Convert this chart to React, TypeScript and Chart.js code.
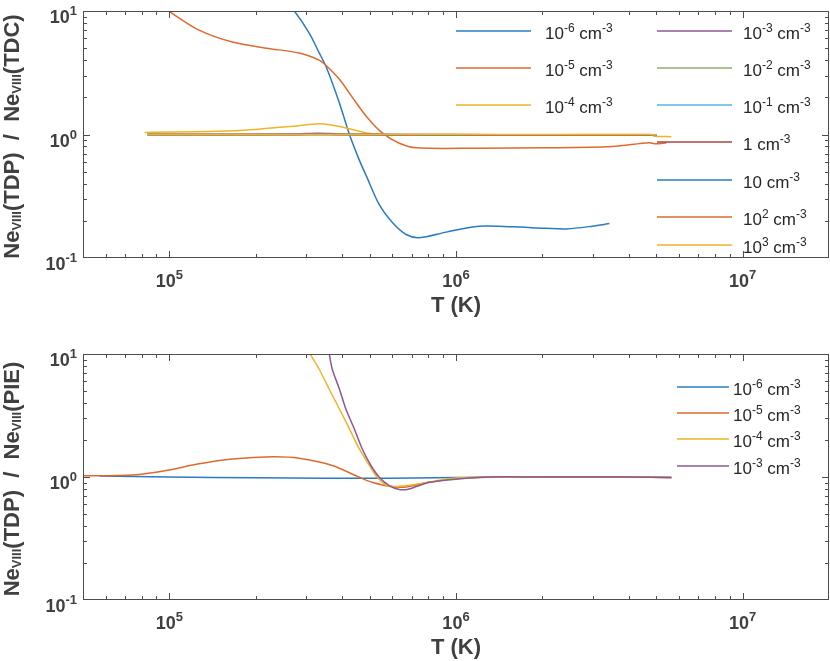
import React, { useEffect, useRef } from "react";
import { Chart, registerables } from "chart.js";

Chart.register(...registerables);

// axes
const xMin = 5e4;
const xMax = 2e7;
const yMin = 0.1;
const yMax = 10;
const xTicks = [1e5, 1e6, 1e7];
const xTickLabels = ["10^{5}", "10^{6}", "10^{7}"];
const yTicks = [0.1, 1, 10];
const yTickLabels = ["10^{-1}", "10^{0}", "10^{1}"];

const densityLabels = [
  "10^{-6} cm^{-3}",
  "10^{-5} cm^{-3}",
  "10^{-4} cm^{-3}",
  "10^{-3} cm^{-3}",
  "10^{-2} cm^{-3}",
  "10^{-1} cm^{-3}",
  "1 cm^{-3}",
  "10 cm^{-3}",
  "10^{2} cm^{-3}",
  "10^{3} cm^{-3}",
];

// matlab-ish line colours
const colors = ["#2a7bbf", "#dd6a2e", "#eeb528", "#8b5a92", "#8fac68", "#55b5e5", "#ad4540", "#2a7bbf", "#dd6a2e", "#eeb528"];

// ---- upper panel: TDP / TDC ----
const tdcT_m6 = [2.4e5, 2.73e5, 3.08e5, 3.33e5, 3.53e5, 3.92e5, 4.25e5, 4.6e5, 4.87e5, 5.4e5, 6.0e5, 6.7e5, 7.45e5, 9.25e5, 1.2e6, 1.57e6, 2.06e6, 2.43e6, 2.99e6, 3.43e6];
const tdcR_m6 = [14, 10, 6.6, 4.6, 3.5, 1.8, 1.0, 0.62, 0.46, 0.27, 0.194, 0.155, 0.146, 0.162, 0.181, 0.179, 0.174, 0.172, 0.181, 0.19];

const tdcT_m5 = [9.0e4, 1.0e5, 1.27e5, 1.66e5, 2.18e5, 2.84e5, 3.33e5, 3.53e5, 3.92e5, 4.35e5, 4.87e5, 5.53e5, 6.34e5, 7.27e5, 1.2e6, 2.06e6, 3.51e6, 4.72e6, 4.97e6, 5.42e6];
const tdcR_m5 = [11.5, 9.9, 7.0, 5.6, 5.0, 4.57, 4.0, 3.6, 2.8, 2.0, 1.4, 1.03, 0.85, 0.78, 0.775, 0.78, 0.8, 0.857, 0.84, 0.857];

const tdcT_m4 = [8.2e4, 1.66e5, 2.62e5, 3.33e5, 3.7e5, 4.14e5, 4.87e5, 5.53e5, 1.0e6, 2.0e6, 4.72e6, 4.97e6, 5.64e6];
const tdcR_m4 = [1.04, 1.07, 1.16, 1.22, 1.19, 1.13, 1.03, 1.0, 1.0, 0.995, 1.0, 0.97, 0.96];

const tdcT_flat = [8.4e4, 1.2e5, 2.0e5, 2.8e5, 3.3e5, 3.9e5, 5.0e5, 7.0e5, 1.0e6, 2.0e6, 3.5e6, 4.7e6, 5.0e6];
const tdcR_m3 = [1.0, 1.0, 1.0, 1.01, 1.025, 1.01, 1.0, 0.995, 0.99, 0.99, 0.99, 0.99, 0.985];
const tdcR_m2 = [1.0, 1.0, 1.0, 1.0, 1.01, 1.0, 1.0, 0.995, 0.99, 0.99, 0.99, 0.99, 0.98];
const tdcR_m1 = [0.995, 0.995, 1.0, 1.0, 1.0, 1.0, 0.995, 0.99, 0.99, 0.99, 0.99, 0.99, 0.98];
const tdcR_0 = [1.0, 1.0, 1.0, 1.0, 1.005, 1.0, 1.0, 0.995, 0.995, 0.99, 0.99, 0.99, 0.985];
const tdcR_1 = [1.0, 1.0, 1.0, 1.0, 1.0, 1.0, 1.0, 1.0, 0.995, 0.995, 0.995, 0.99, 0.985];
const tdcR_2 = [1.0, 1.0, 1.0, 1.0, 1.0, 1.0, 1.0, 1.0, 1.0, 0.995, 0.995, 0.995, 0.99];
const tdcR_3 = [1.0, 1.0, 1.0, 1.0, 1.0, 1.0, 1.0, 1.0, 1.0, 1.0, 1.0, 1.0, 0.99];

// ---- lower panel: TDP / PIE ----
const pieT_m6 = [5.7e4, 1.0e5, 2.0e5, 3.5e5, 5.0e5, 7.0e5, 1.0e6, 2.0e6, 4.0e6, 5.64e6];
const pieR_m6 = [1.02, 1.0, 0.985, 0.978, 0.978, 0.98, 0.99, 1.0, 1.0, 0.99];

const pieT_m5 = [4.8e4, 7.43e4, 9.77e4, 1.27e5, 1.66e5, 2.29e5, 2.84e5, 3.7e5, 4.6e5, 5.1e5, 5.85e5, 6.71e5, 8.07e5, 1.0e6, 1.31e6, 2.0e6, 4.0e6, 5.64e6];
const pieR_m5 = [1.02, 1.04, 1.13, 1.28, 1.4, 1.46, 1.42, 1.24, 0.995, 0.905, 0.84, 0.83, 0.905, 0.97, 1.0, 1.0, 1.0, 0.99];

const pieT_m4 = [2.84e5, 3.08e5, 3.33e5, 3.61e5, 3.92e5, 4.25e5, 4.6e5, 4.99e5, 5.31e5, 5.75e5, 6.34e5, 7.2e5, 8.5e5, 1.0e6, 1.31e6, 2.0e6, 4.0e6, 5.64e6];
const pieR_m4 = [13.7, 10.2, 7.55, 5.19, 3.57, 2.46, 1.69, 1.24, 0.995, 0.85, 0.84, 0.87, 0.93, 0.98, 1.0, 1.0, 1.0, 0.99];

const pieT_m3 = [3.5e5, 3.61e5, 3.7e5, 3.92e5, 4.13e5, 4.42e5, 4.71e5, 5.05e5, 5.4e5, 5.85e5, 6.34e5, 6.87e5, 8.07e5, 1.0e6, 1.31e6, 2.0e6, 4.0e6, 5.64e6];
const pieR_m3 = [16, 10.2, 7.55, 5.19, 3.57, 2.46, 1.69, 1.24, 0.995, 0.85, 0.79, 0.8, 0.905, 0.96, 1.0, 1.0, 1.0, 0.99];

const AXIS = "#4d4d4d";
const LABEL = "#404040";
const TEXT = "#262626";
const FONT = '"Liberation Sans", Arial, Helvetica, sans-serif';

type Seg = { t: string; k: "n" | "sup" | "sub" };

function splitRich(text: string): Seg[] {
  const out: Seg[] = [];
  const re = /([\^_])\{([^}]*)\}/g;
  let last = 0;
  let m: RegExpExecArray | null;
  while ((m = re.exec(text))) {
    if (m.index > last) out.push({ t: text.slice(last, m.index), k: "n" });
    out.push({ t: m[2], k: m[1] === "^" ? "sup" : "sub" });
    last = re.lastIndex;
  }
  if (last < text.length) out.push({ t: text.slice(last), k: "n" });
  return out;
}

type RichStyle = { size: number; small: number; raise: number; lower: number; bold: boolean; color: string };

function drawRich(ctx: CanvasRenderingContext2D, text: string, x: number, y: number, st: RichStyle, align: "left" | "center" | "right") {
  const segs = splitRich(text);
  const font = (s: number) => `${st.bold ? "bold " : ""}${s}px ${FONT}`;
  const widths = segs.map((s) => {
    ctx.font = font(s.k === "n" ? st.size : st.small);
    return ctx.measureText(s.t).width;
  });
  const total = widths.reduce((a, b) => a + b, 0);
  let cx = align === "center" ? x - total / 2 : align === "right" ? x - total : x;
  ctx.fillStyle = st.color;
  ctx.textAlign = "left";
  ctx.textBaseline = "alphabetic";
  segs.forEach((s, i) => {
    ctx.font = font(s.k === "n" ? st.size : st.small);
    const dy = s.k === "sup" ? -st.raise : s.k === "sub" ? st.lower : 0;
    ctx.fillText(s.t, cx, y + dy);
    cx += widths[i];
  });
  return total;
}

const tickStyle: RichStyle = { size: 18, small: 13, raise: 8, lower: 0, bold: true, color: LABEL };
const titleStyle: RichStyle = { size: 22, small: 13, raise: 0, lower: 2, bold: true, color: LABEL };
const legendStyle: RichStyle = { size: 17, small: 12, raise: 7, lower: 0, bold: false, color: TEXT };

type Series = { label: string; color: string; T: number[]; R: number[] };
type Slot = { x0: number; x1: number; y: number; tx: number };

function Panel({ series, yTitle, height, area, slots }: { series: Series[]; yTitle: string; height: number; area: any; slots: Slot[] }) {
  const canvasRef = useRef<HTMLCanvasElement>(null);

  useEffect(() => {
    const frame = {
      id: "frame",
      afterDraw(chart: any) {
        const { ctx, chartArea: a } = chart;
        const xs = chart.scales.x;
        const ys = chart.scales.y;
        ctx.save();
        ctx.strokeStyle = AXIS;
        ctx.lineWidth = 1;
        ctx.strokeRect(a.left + 0.5, a.top + 0.5, a.right - a.left - 1, a.bottom - a.top - 1);

        // inward ticks on all four sides
        ctx.beginPath();
        for (let d = 4; d <= 7; d++) {
          for (let m = 1; m <= 9; m++) {
            const v = m * Math.pow(10, d);
            if (v <= xMin || v >= xMax) continue;
            const px = Math.round(xs.getPixelForValue(v)) + 0.5;
            const len = m === 1 ? 7 : 4;
            ctx.moveTo(px, a.bottom);
            ctx.lineTo(px, a.bottom - len);
            ctx.moveTo(px, a.top);
            ctx.lineTo(px, a.top + len);
          }
        }
        for (let d = -1; d <= 1; d++) {
          for (let m = 1; m <= 9; m++) {
            const v = m * Math.pow(10, d);
            if (v <= yMin || v >= yMax) continue;
            const py = Math.round(ys.getPixelForValue(v)) + 0.5;
            const len = m === 1 ? 7 : 4;
            ctx.moveTo(a.left, py);
            ctx.lineTo(a.left + len, py);
            ctx.moveTo(a.right, py);
            ctx.lineTo(a.right - len, py);
          }
        }
        ctx.stroke();

        xTicks.forEach((v, i) => {
          drawRich(ctx, xTickLabels[i], xs.getPixelForValue(v), a.bottom + 29, tickStyle, "center");
        });
        yTicks.forEach((v, i) => {
          drawRich(ctx, yTickLabels[i], a.left - 6, ys.getPixelForValue(v) + 12, tickStyle, "right");
        });

        drawRich(ctx, "T (K)", (a.left + a.right) / 2, a.bottom + 54, titleStyle, "center");

        ctx.save();
        ctx.translate(18.5, (a.top + a.bottom) / 2 + 2);
        ctx.rotate(-Math.PI / 2);
        drawRich(ctx, yTitle, 0, 0, titleStyle, "center");
        ctx.restore();

        // legend, no box
        slots.forEach((s, i) => {
          const ser = series[i];
          ctx.strokeStyle = ser.color;
          ctx.lineWidth = 1.5;
          ctx.beginPath();
          ctx.moveTo(s.x0, s.y);
          ctx.lineTo(s.x1, s.y);
          ctx.stroke();
          drawRich(ctx, ser.label, s.tx, s.y + 8, legendStyle, "left");
        });
        ctx.restore();
      },
    };

    const chart = new Chart(canvasRef.current as HTMLCanvasElement, {
      type: "line",
      data: {
        datasets: series.map((s, i) => ({
          label: s.label,
          data: s.T.map((t, k) => ({ x: t, y: s.R[k] })),
          borderColor: s.color,
          borderWidth: 1.5,
          pointRadius: 0,
          fill: false,
          tension: 0.3,
          clip: 0,
          order: -i,
        })),
      },
      options: {
        animation: false,
        responsive: false,
        events: [],
        layout: { padding: area },
        scales: {
          x: { type: "logarithmic", min: xMin, max: xMax, display: false },
          y: { type: "logarithmic", min: yMin, max: yMax, display: false },
        },
        plugins: { legend: { display: false }, tooltip: { enabled: false } },
      },
      plugins: [frame],
    });
    return () => chart.destroy();
  }, []);

  return <canvas ref={canvasRef} width={830} height={height} style={{ display: "block", width: 830, height }} />;
}

const tdcSeries: Series[] = [
  [tdcT_m6, tdcR_m6],
  [tdcT_m5, tdcR_m5],
  [tdcT_m4, tdcR_m4],
  [tdcT_flat, tdcR_m3],
  [tdcT_flat, tdcR_m2],
  [tdcT_flat, tdcR_m1],
  [tdcT_flat, tdcR_0],
  [tdcT_flat, tdcR_1],
  [tdcT_flat, tdcR_2],
  [tdcT_flat, tdcR_3],
].map(([T, R], i) => ({ label: densityLabels[i], color: colors[i], T, R }));

const pieSeries: Series[] = [
  [pieT_m6, pieR_m6],
  [pieT_m5, pieR_m5],
  [pieT_m4, pieR_m4],
  [pieT_m3, pieR_m3],
].map(([T, R], i) => ({ label: densityLabels[i], color: colors[i], T, R }));

const tdcRows = [31, 68, 105, 142, 180, 217, 245];
const tdcSlots: Slot[] = [
  ...tdcRows.slice(0, 3).map((y) => ({ x0: 456, x1: 531, y, tx: 545 })),
  ...tdcRows.map((y) => ({ x0: 657, x1: 732, y, tx: 743 })),
];
const pieSlots: Slot[] = [57, 83, 109, 136].map((y) => ({ x0: 677, x1: 729, y, tx: 733 }));

export default function App() {
  return (
    <div style={{ position: "absolute", left: 0, top: 0, width: 830, height: 661, background: "#fff" }}>
      <Panel
        series={tdcSeries}
        yTitle="Ne_{VIII}(TDP)  /  Ne_{VIII}(TDC)"
        height={330}
        area={{ left: 83, top: 11, right: 1, bottom: 72 }}
        slots={tdcSlots}
      />
      <Panel
        series={pieSeries}
        yTitle="Ne_{VIII}(TDP)  /  Ne_{VIII}(PIE)"
        height={331}
        area={{ left: 83, top: 24, right: 1, bottom: 61 }}
        slots={pieSlots}
      />
    </div>
  );
}
